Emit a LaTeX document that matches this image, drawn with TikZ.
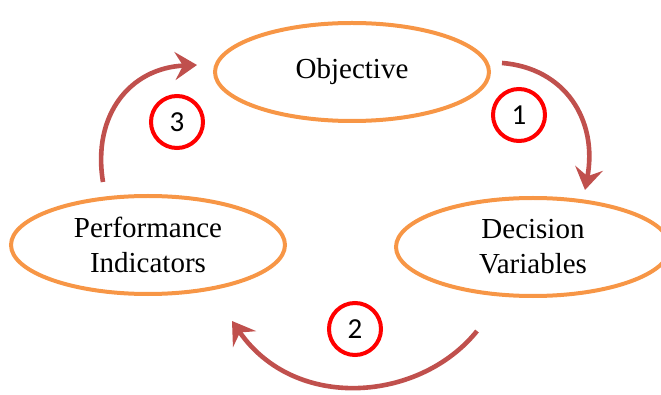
\documentclass[tikz,border=0pt]{standalone}
\usepackage{fontspec}
\setmainfont{Liberation Serif}
\newfontfamily\numfont{Carlito}
\usetikzlibrary{shapes.geometric,arrows.meta}
\definecolor{orng}{HTML}{F79646}
\definecolor{arrred}{HTML}{C0504D}
\definecolor{circred}{HTML}{FF0000}
\begin{document}
\begin{tikzpicture}[x=1pt,y=-1pt,
  oval/.style={ellipse,draw=orng,line width=4pt,minimum width=274pt,minimum height=98pt,inner sep=0pt,
    font=\fontsize{29}{35}\selectfont,align=center},
  num/.style={circle,draw=circred,line width=4pt,minimum size=52pt,inner sep=0pt,font=\numfont\fontsize{29}{32}\selectfont},
  flow/.style={draw=arrred,line width=4.6pt,-{Stealth[length=22pt,width=28pt,inset=8pt]}}]
\useasboundingbox (0,0) rectangle (661,395);
\node[oval] (obj) at (352,72) {Objective};
\node[oval] (perf) at (148,245) {Performance\\Indicators};
\node[oval] (dec) at (533,247) {Decision\\Variables};
\node[num] (n1) at (519,115) {1};
\node[num] (n2) at (355,329) {2};
\node[num] (n3) at (177,122) {3};
\coordinate (a1s) at (502,63);
\coordinate (a1e) at (585,190);
\coordinate (a2s) at (477,331);
\coordinate (a2e) at (232,321);
\coordinate (a3s) at (103,182);
\coordinate (a3e) at (197,65);
\draw[flow] (a1s) .. controls (565,68) and (598,120) .. (a1e);
\draw[flow] (a2s) .. controls (420,402) and (295,412) .. (a2e);
\draw[flow] (a3s) .. controls (92,115) and (130,68) .. (a3e);
\end{tikzpicture}
\end{document}
